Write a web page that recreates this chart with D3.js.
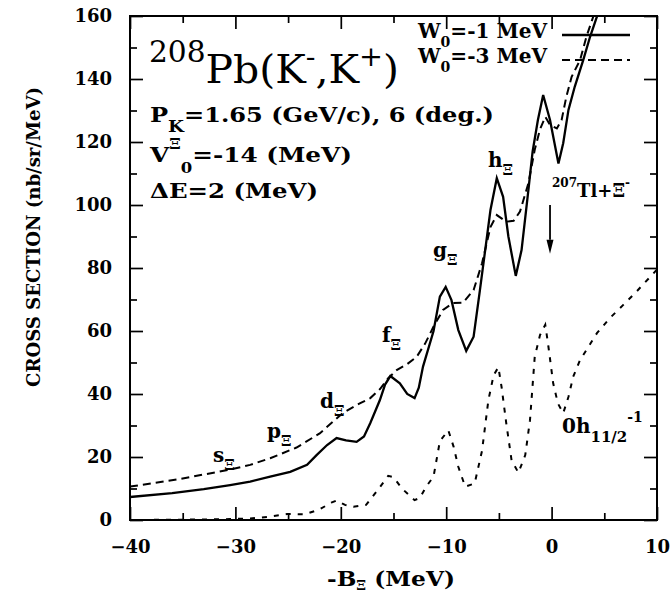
<!DOCTYPE html>
<html><head><meta charset="utf-8">
<script src="https://cdn.jsdelivr.net/npm/d3@7/dist/d3.min.js"></script>
<style>
body{margin:0;background:#fff;}
text{font-family:"DejaVu Serif",serif;fill:#000;}
</style>
</head><body>
<svg id="chart" width="671" height="596"></svg>
<script>
// ---- data ----
const xMajorTicks = [-40, -30, -20, -10, 0, 10];
const xMinorTicks = [-35, -25, -15, -5, 5];
const yMajorTicks = [0, 20, 40, 60, 80, 100, 120, 140, 160];
const yMinorTicks = [10, 30, 50, 70, 90, 110, 130, 150];

// W0 = -1 MeV (solid)
const energyW1 = [-40, -36, -33, -30.5, -28.6, -26.7, -24.8, -23.2, -22.3, -21.3, -20.4, -19.5, -18.5, -17.8, -17.2, -16.3, -15.8, -15.3, -14.4, -13.7, -13.0, -12.6, -12.2, -11.2, -10.6, -10.05, -9.5, -8.85, -8.1, -7.4, -6.8, -6.3, -5.8, -5.2, -4.6, -4.1, -3.4, -2.85, -2.2, -1.8, -1.3, -0.8, -0.15, 0.65, 1.1, 1.6, 2.2, 3.0, 3.65, 4.3, 4.6];
const sigmaW1  = [7.3, 8.5, 9.8, 11.1, 12.2, 13.8, 15.3, 17.5, 20.6, 23.8, 26.0, 25.3, 24.8, 26.5, 30.8, 38.0, 43.0, 45.7, 43.4, 40.0, 38.7, 42.0, 48.7, 60.0, 70.9, 74.0, 69.8, 60.3, 53.7, 58.2, 73.0, 85.7, 98.4, 108.5, 102.6, 90.0, 77.5, 85.7, 104.8, 117.0, 127.0, 134.9, 127.0, 113.2, 119.6, 130.2, 137.6, 146.0, 153.4, 159.8, 163];

// W0 = -3 MeV (dashed)
const energyW3 = [-40, -35.3, -30.5, -28.6, -26.7, -24.2, -22.0, -19.8, -18.2, -17.2, -16.3, -15.5, -14.7, -13.7, -12.8, -12.0, -11.2, -10.3, -9.35, -8.4, -7.4, -6.6, -5.8, -5.2, -4.3, -3.6, -3.0, -2.2, -1.6, -1.1, -0.6, -0.15, 0.5, 0.95, 1.4, 1.9, 2.7, 3.3, 3.95, 4.3];
const sigmaW3  = [10.6, 13.0, 16.0, 17.5, 19.6, 23.0, 27.5, 34.0, 37.0, 38.7, 41.5, 45.0, 47.6, 49.5, 51.8, 56.0, 61.4, 66.7, 68.9, 69.0, 73.0, 81.5, 93.0, 96.8, 94.7, 95.0, 97.9, 106.9, 117.5, 124.0, 128.0, 125.4, 124.3, 127.0, 134.4, 140.7, 146.0, 153.4, 159.8, 163];

// 0h11/2^-1 contribution (short dashes)
const energyHole = [-40, -35, -32, -30.5, -28.6, -26.9, -25.1, -23.4, -22.0, -20.9, -20.4, -19.6, -18.8, -17.6, -16.5, -15.5, -15.0, -14.2, -13.0, -12.5, -11.9, -11.2, -10.6, -9.8, -9.3, -8.85, -8.2, -7.3, -6.6, -6.0, -5.5, -5.05, -4.75, -4.3, -3.8, -3.15, -2.5, -2.05, -1.6, -1.1, -0.6, -0.3, 0.15, 0.6, 1.1, 1.6, 2.05, 2.7, 3.5, 4.3, 5.5, 6.8, 8.05, 10];
const sigmaHole  = [0, 0.1, 0.2, 0.3, 0.5, 1.0, 1.9, 1.8, 3.4, 5.5, 6.2, 4.8, 4.2, 4.8, 9.5, 14.0, 13.6, 10.0, 6.3, 7.0, 10.6, 13.8, 25.0, 28.5, 23.3, 16.9, 10.6, 11.6, 22.0, 38.0, 46.0, 48.5, 42.3, 30.7, 19.0, 15.0, 20.6, 31.7, 51.8, 58.7, 62.0, 55.0, 43.4, 37.0, 33.9, 39.1, 45.5, 50.8, 55.0, 59.3, 64.0, 68.3, 72.5, 79.5];

// ---- layout ----
const W = 671, H = 596;
const m = {left: 130, right: 14, top: 16, bottom: 76};
const svg = d3.select("#chart");
const x = d3.scaleLinear().domain([-40, 10]).range([m.left, W - m.right]);
const y = d3.scaleLinear().domain([0, 160]).range([H - m.bottom, m.top]);
const x0 = m.left, x1 = W - m.right, y0 = H - m.bottom, y1 = m.top;

svg.append("defs").append("clipPath").attr("id", "clip")
  .append("rect").attr("x", x0).attr("y", y1).attr("width", x1 - x0).attr("height", y0 - y1);

// ---- axes ----
const MAJ = 13, MIN = 7;
function styleAxis(g) {
  g.select(".domain").remove();
  g.selectAll(".tick line").attr("stroke", "#000").attr("stroke-width", 1.7);
  g.selectAll("text").attr("font-family", "DejaVu Serif").attr("font-weight", "bold").attr("font-size", 18).attr("fill", "#000");
}
svg.append("g").attr("transform", `translate(0,${y0})`)
  .call(d3.axisBottom(x).tickValues(xMajorTicks).tickSizeInner(-MAJ).tickSizeOuter(0).tickPadding(20).tickFormat(d3.format("d")))
  .call(styleAxis);
svg.append("g").attr("transform", `translate(0,${y0})`)
  .call(d3.axisBottom(x).tickValues(xMinorTicks).tickSizeInner(-MIN).tickSizeOuter(0).tickFormat(""))
  .call(styleAxis);
svg.append("g").attr("transform", `translate(0,${y1})`)
  .call(d3.axisTop(x).tickValues(xMajorTicks).tickSizeInner(-MAJ).tickSizeOuter(0).tickFormat(""))
  .call(styleAxis);
svg.append("g").attr("transform", `translate(0,${y1})`)
  .call(d3.axisTop(x).tickValues(xMinorTicks).tickSizeInner(-MIN).tickSizeOuter(0).tickFormat(""))
  .call(styleAxis);
svg.append("g").attr("transform", `translate(${x0},0)`)
  .call(d3.axisLeft(y).tickValues(yMajorTicks).tickSizeInner(-MAJ).tickSizeOuter(0).tickPadding(18).tickFormat(d3.format("d")))
  .call(styleAxis);
svg.append("g").attr("transform", `translate(${x0},0)`)
  .call(d3.axisLeft(y).tickValues(yMinorTicks).tickSizeInner(-MIN).tickSizeOuter(0).tickFormat(""))
  .call(styleAxis);
svg.append("g").attr("transform", `translate(${x1},0)`)
  .call(d3.axisRight(y).tickValues(yMajorTicks).tickSizeInner(-MAJ).tickSizeOuter(0).tickFormat(""))
  .call(styleAxis);
svg.append("g").attr("transform", `translate(${x1},0)`)
  .call(d3.axisRight(y).tickValues(yMinorTicks).tickSizeInner(-MIN).tickSizeOuter(0).tickFormat(""))
  .call(styleAxis);

// ---- curves ----
const line = d3.line().x(d => x(d[0])).y(d => y(d[1]));
const plot = svg.append("g").attr("clip-path", "url(#clip)");
plot.append("path").datum(d3.zip(energyHole, sigmaHole)).attr("d", line)
  .attr("fill", "none").attr("stroke", "#000").attr("stroke-width", 2).attr("stroke-dasharray", "5,7");
plot.append("path").datum(d3.zip(energyW3, sigmaW3)).attr("d", line)
  .attr("fill", "none").attr("stroke", "#000").attr("stroke-width", 2).attr("stroke-dasharray", "8,5");
plot.append("path").datum(d3.zip(energyW1, sigmaW1)).attr("d", line)
  .attr("fill", "none").attr("stroke", "#000").attr("stroke-width", 2.3);

// frame
svg.append("rect").attr("x", x0).attr("y", y1).attr("width", x1 - x0).attr("height", y0 - y1)
  .attr("fill", "none").attr("stroke", "#000").attr("stroke-width", 2);

// ---- rich text helper ----
function rich(px, py, parts, opts = {}) {
  const t = svg.append("text").attr("x", px).attr("y", py)
    .attr("font-weight", opts.weight || "bold");
  if (opts.anchor) t.attr("text-anchor", opts.anchor);
  if (opts.transform) t.attr("transform", opts.transform);
  let prev = 0;
  parts.forEach(([s, size, shift]) => {
    t.append("tspan").attr("font-size", size).attr("dy", shift - prev).text(s);
    prev = shift;
  });
  if (opts.len) t.attr("textLength", opts.len).attr("lengthAdjust", "spacingAndGlyphs");
  return t;
}

// title block
rich(149, 83, [["208", 29, -21], ["Pb(K", 40, 0], ["-", 28, -17], [",K", 40, 0], ["+", 28, -17], [")", 40, 0]], {weight: "normal", len: 250});
rich(150, 122, [["P", 21, 0], ["K", 16, 10], ["=1.65 (GeV/c), 6 (deg.)", 21, 0]], {len: 344});
rich(150, 162, [["V", 21, 0], ["Ξ", 14, -13], ["0", 14, 11], ["=-14 (MeV)", 21, 0]], {len: 202});
rich(150, 198, [["ΔE=2 (MeV)", 21, 0]], {len: 168});

// legend
rich(547, 38, [["W", 20, 0], ["0", 14, 9], ["=-1 MeV", 20, 0]], {anchor: "end", len: 129});
rich(547, 63, [["W", 20, 0], ["0", 14, 9], ["=-3 MeV", 20, 0]], {anchor: "end", len: 129});
svg.append("line").attr("x1", 562).attr("x2", 630).attr("y1", 35).attr("y2", 35)
  .attr("stroke", "#000").attr("stroke-width", 2.3);
svg.append("line").attr("x1", 562).attr("x2", 630).attr("y1", 60).attr("y2", 60)
  .attr("stroke", "#000").attr("stroke-width", 2).attr("stroke-dasharray", "8,5");

// shell labels
const shellLabels = [["s", 213, 462], ["p", 267, 438], ["d", 320, 408], ["f", 382, 342], ["g", 433, 257], ["h", 488, 167]];
shellLabels.forEach(([s, px, py]) => rich(px, py, [[s, 20, 0], ["Ξ", 15, 8]]));

// threshold annotation
rich(552, 197, [["207", 12, -10], ["Tl+Ξ", 18, 0], ["-", 12, -10]]);
const ax = x(-0.15);
svg.append("line").attr("x1", ax).attr("x2", ax).attr("y1", y(100)).attr("y2", y(89))
  .attr("stroke", "#000").attr("stroke-width", 1.8);
svg.append("path")
  .attr("d", `M${ax - 3.5},${y(89)} L${ax + 3.5},${y(89)} L${ax},${y(84.5)} Z`)
  .attr("fill", "#000");

rich(562, 433, [["0h", 20, 0], ["11/2", 15, 9], ["-1", 14, -11]]);

// axis titles
rich(391, 586, [["-B", 20, 0], ["Ξ", 12, 4], [" (MeV)", 20, 0]], {anchor: "middle", len: 128});
rich(0, 0, [["CROSS SECTION (nb/sr/MeV)", 18, 0]], {anchor: "middle", transform: "translate(40,237) rotate(-90)", len: 300});
</script>
</body></html>
